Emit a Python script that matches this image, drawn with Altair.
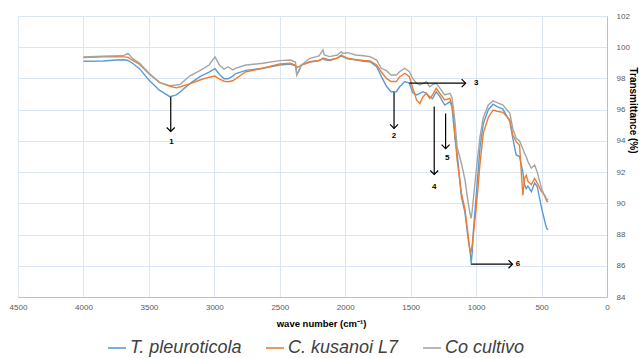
import altair as alt
import pandas as pd

# ---------------- data ----------------
wavenumber = [4000, 3850, 3750, 3690, 3660, 3620, 3570, 3500, 3420, 3340,
              3290, 3260, 3190, 3110, 3040, 2995, 2960, 2925, 2895, 2860,
              2840, 2760, 2630, 2500, 2420, 2380, 2370, 2355, 2335, 2270,
              2200, 2170, 2160, 2120, 2060, 2030, 2020, 1980, 1920, 1860,
              1810, 1760, 1725, 1685, 1650, 1610, 1585, 1545, 1510, 1485,
              1455, 1430, 1405, 1380, 1355, 1333, 1305, 1278, 1240, 1200,
              1185, 1172, 1160, 1145, 1112, 1085, 1060, 1045, 1038, 1030,
              1022, 996, 970, 945, 907, 870, 840, 795, 742, 720,
              694, 668, 643, 630, 617, 604, 578, 553, 533, 500,
              474, 461, 450]

t_pleuroticola = [99.10, 99.12, 99.18, 99.20, 99.15, 98.94, 98.61, 97.90, 97.25, 96.83,
                  96.95, 97.15, 97.65, 98.12, 98.40, 98.62, 98.25, 97.98, 97.98, 98.15,
                  98.30, 98.52, 98.65, 98.86, 98.92, 98.80, 98.25, 98.45, 98.86, 99.05,
                  99.15, 99.30, 99.20, 99.15, 99.30, 99.45, 99.40, 99.25, 99.20, 99.10,
                  99.07, 98.75, 98.15, 97.50, 97.15, 97.15, 97.45, 97.80, 97.70, 97.10,
                  96.95, 97.05, 97.15, 97.05, 96.83, 96.70, 97.15, 96.85, 96.30, 96.50,
                  96.20, 95.10, 94.05, 93.20, 90.40, 89.40, 87.65, 86.90, 86.15, 86.80,
                  88.10, 90.85, 93.60, 95.10, 96.00, 96.35, 96.20, 96.04, 95.23, 94.17,
                  93.10, 93.00, 92.00, 91.20, 90.95, 91.10, 90.75, 91.30, 91.07, 89.70,
                  88.80, 88.40, 88.30]

c_kusanoi = [99.34, 99.38, 99.40, 99.38, 99.35, 99.14, 98.90, 98.30, 97.75, 97.50,
             97.40, 97.47, 97.65, 97.90, 98.08, 98.15, 97.95, 97.82, 97.79, 97.85,
             97.95, 98.43, 98.65, 98.93, 98.97, 98.85, 98.70, 98.75, 98.86, 99.07,
             99.15, 99.25, 99.29, 99.18, 99.30, 99.50, 99.45, 99.29, 99.20, 99.15,
             99.12, 98.86, 98.43, 98.00, 97.80, 97.80, 98.10, 98.33, 98.11, 97.40,
             96.62, 96.40, 96.83, 97.05, 96.73, 96.94, 97.37, 97.05, 96.62, 96.73,
             96.30, 95.50, 94.27, 92.80, 90.65, 89.60, 87.90, 86.80, 86.95, 87.30,
             87.90, 90.00, 92.56, 94.50, 95.50, 95.98, 95.90, 95.83, 95.34, 94.38,
             93.95, 93.70, 90.50, 91.60, 91.80, 91.40, 91.20, 91.60, 91.30, 90.75,
             90.50, 90.15, 90.10]

co_cultivo = [99.38, 99.42, 99.45, 99.48, 99.60, 99.25, 98.97, 98.35, 97.75, 97.54,
              97.58, 97.62, 98.15, 98.50, 98.86, 99.38, 98.85, 98.60, 98.75, 98.54,
              98.65, 98.86, 98.97, 99.14, 99.18, 99.05, 98.22, 98.50, 98.86, 99.29,
              99.45, 99.82, 99.50, 99.40, 99.50, 99.71, 99.60, 99.65, 99.50, 99.45,
              99.40, 99.18, 98.65, 98.50, 98.22, 98.22, 98.43, 98.65, 98.43, 98.00,
              97.69, 97.58, 97.69, 97.79, 97.47, 97.60, 97.69, 97.40, 96.94, 97.05,
              96.80, 96.00, 95.10, 93.60, 92.55, 91.50, 90.00, 89.30, 89.04, 89.50,
              90.20, 92.35, 94.27, 95.50, 96.30, 96.56, 96.45, 96.30, 95.77, 94.80,
              94.17, 94.00, 93.50, 93.20, 93.00, 92.67, 92.25, 92.45, 92.00, 90.96,
              90.40, 90.30, 90.20]

series_names = ["T. pleuroticola", "C. kusanoi L7", "Co cultivo"]
series_colors = ["#5B9BD5", "#ED7D31", "#A5A5A5"]

x_ticks = [0, 500, 1000, 1500, 2000, 2500, 3000, 3500, 4000, 4500]
y_ticks = [84, 86, 88, 90, 92, 94, 96, 98, 100, 102]

# annotation arrows (peak markers)
v_arrow_x = [3333, 1627, 1320, 1233]
v_arrow_top = [96.83, 97.12, 96.20, 95.75]
v_arrow_tip = [94.60, 94.80, 91.85, 93.50]
h_arrow_y = [97.70, 86.10]
h_arrow_start = [1510, 1040]
h_arrow_tip = [1080, 722]
label_text = ["1", "2", "3", "4", "5", "6"]
label_x = [3327, 1627, 1000, 1320, 1221, 681]
label_y = [93.95, 94.31, 97.70, 91.07, 92.89, 86.10]

# ---------------- tables ----------------
rows = []
for name, vals in zip(series_names, [t_pleuroticola, c_kusanoi, co_cultivo]):
    for w, v in zip(wavenumber, vals):
        rows.append({"wn": w, "T": v, "series": name})
spec_df = pd.DataFrame(rows)

v_df = pd.DataFrame({"wn": v_arrow_x, "T": v_arrow_top, "T2": v_arrow_tip})
h_df = pd.DataFrame({"wn": h_arrow_start, "wn2": h_arrow_tip, "T": h_arrow_y})
lab_df = pd.DataFrame({"wn": label_x, "T": label_y, "txt": label_text})

GRID = "#dce6f2"
x_scale = alt.Scale(domain=[0, 4500], reverse=True, nice=False, zero=False)
y_scale = alt.Scale(domain=[84, 102], nice=False, zero=False)

x_axis = alt.Axis(values=x_ticks, grid=True, gridColor=GRID, ticks=False,
                  domainColor="#bfbfbf", labelFont="Liberation Sans", labelFontSize=8,
                  labelColor="#595959", labelPadding=6, labelFlush=False,
                  labelOverlap=False, format="d",
                  title="wave number (cm⁻¹)", titleFont="Liberation Sans",
                  titleFontSize=9.5, titleFontWeight="bold", titleColor="#000000",
                  titlePadding=7, titleX=303)
y_axis = alt.Axis(values=y_ticks, orient="right", grid=True, gridColor=GRID, ticks=False,
                  domainColor="#bfbfbf", labelFont="Liberation Sans", labelFontSize=8,
                  labelColor="#595959", labelPadding=9, labelAlign="left",
                  labelFlush=False, labelOverlap=False,
                  title="Transmittance (%)", titleFont="Liberation Sans",
                  titleFontSize=10, titleFontWeight="bold", titleColor="#000000",
                  titleAngle=90, titleX=25, titleY=94, titleAlign="center",
                  titleBaseline="middle")


def X(field="wn"):
    return alt.X(f"{field}:Q", scale=x_scale, axis=x_axis)


def Y(field="T"):
    return alt.Y(f"{field}:Q", scale=y_scale, axis=y_axis)


lines = alt.Chart(spec_df).mark_line(strokeWidth=1.4).encode(
    x=X(), y=Y(),
    color=alt.Color("series:N",
                    scale=alt.Scale(domain=series_names, range=series_colors),
                    legend=alt.Legend(orient="none", legendX=89, legendY=322,
                                      direction="horizontal", title=None,
                                      symbolType="stroke", symbolSize=324,
                                      symbolStrokeWidth=1.6,
                                      labelFont="Liberation Sans", labelFontSize=18,
                                      labelFontStyle="italic", labelColor="#404040",
                                      columnPadding=20, labelOffset=3, padding=0,
                                      labelLimit=300)),
    detail="series:N",
)

v_rules = alt.Chart(v_df).mark_rule(color="#000000", strokeWidth=1.2).encode(
    x=X(), y=Y(), y2="T2:Q")
v_heads = alt.Chart(v_df).mark_point(shape="M-1,-1L0,0L1,-1", filled=False, size=64,
                                     color="#000000", strokeWidth=1.2, opacity=1).encode(
    x=X(), y=Y("T2"))
h_rules = alt.Chart(h_df).mark_rule(color="#000000", strokeWidth=1.2).encode(
    x=X(), x2="wn2:Q", y=Y())
h_heads = alt.Chart(h_df).mark_point(shape="M-1,-1L0,0L-1,1", filled=False, size=64,
                                     color="#000000", strokeWidth=1.2, opacity=1).encode(
    x=X("wn2"), y=Y())
labels = alt.Chart(lab_df).mark_text(font="Liberation Sans", fontSize=8, fontWeight="bold",
                                     color="#000000", align="center",
                                     baseline="middle").encode(
    x=X(), y=Y(), text="txt:N")

chart = alt.layer(lines, v_rules, v_heads, h_rules, h_heads, labels).properties(
    width=589, height=281,
    autosize=alt.AutoSizeParams(type="none"),
    padding={"left": 18, "top": 16, "right": 32, "bottom": 61},
    background="#ffffff",
).configure_view(stroke=None)

chart.save("out.html", embed_options={"renderer": "svg", "actions": False})
